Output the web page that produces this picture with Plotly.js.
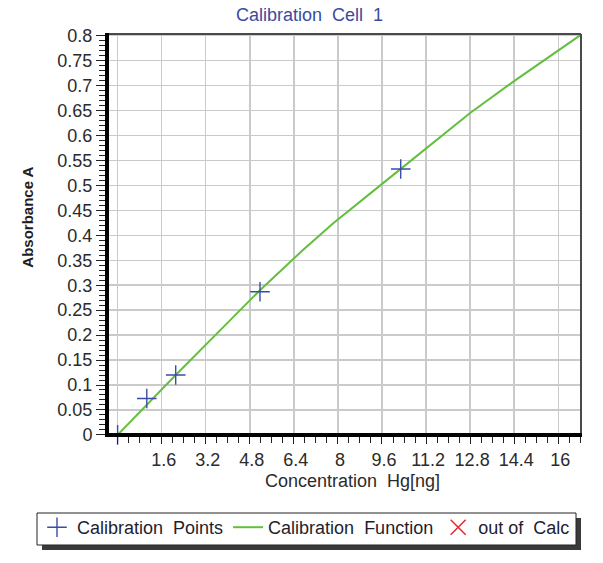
<!DOCTYPE html>
<html>
<head>
<meta charset="utf-8">
<script src="https://cdn.plot.ly/plotly-3.0.1.min.js"></script>
<style>
  html, body { margin: 0; padding: 0; background: #ffffff; }
  #chart { width: 603px; height: 563px; }
</style>
</head>
<body>
<div id="chart"></div>
<script>
// Calibration points (Concentration Hg [ng], Absorbance A)
var pointConc = [0, 1.06, 2.11, 5.17, 10.28];
var pointAbs  = [0, 0.073, 0.120, 0.287, 0.533];

// Calibration function
var funcConc = [0, 2.11, 4.0, 5.17, 6.68, 7.83, 9.65, 10.28, 11.71, 12.8, 14.37, 16.0, 16.85];
var funcAbs  = [0, 0.120, 0.225, 0.290, 0.368, 0.424, 0.505, 0.533, 0.597, 0.645, 0.708, 0.771, 0.803];

// Out-of-calculation points (none in range)
var outConc = [null];
var outAbs  = [null];

var xTickVals = [0, 1.6, 3.2, 4.8, 6.4, 8, 9.6, 11.2, 12.8, 14.4, 16];
var xTickText = ['', '1.6', '3.2', '4.8', '6.4', '8', '9.6', '11.2', '12.8', '14.4', '16'];
var yTickVals = [0, 0.05, 0.1, 0.15, 0.2, 0.25, 0.3, 0.35, 0.4, 0.45, 0.5, 0.55, 0.6, 0.65, 0.7, 0.75, 0.8];
var yTickText = ['0', '0.05', '0.1', '0.15', '0.2', '0.25', '0.3', '0.35', '0.4', '0.45', '0.5', '0.55', '0.6', '0.65', '0.7', '0.75', '0.8'];

var FONT = 'Liberation Sans, Arial, sans-serif';
var W = 603, H = 563;
var M = {l: 107, r: 22, t: 34, b: 128};
var PW = W - M.l - M.r, PH = H - M.t - M.b;
function px2x(px) { return (px - M.l) / PW; }
function py2y(py) { return (H - M.b - py) / PH; }

// legend frame (pixels), drawn as shapes behind a transparent legend
var boxL = 37, boxT = 513, boxR = 576, boxB = 545, sh = 5;

var traces = [
  {
    x: funcConc, y: funcAbs, type: 'scatter', mode: 'lines',
    name: 'Calibration\u00a0 Function',
    line: {color: '#62bf3e', width: 2},
    legendrank: 2, hoverinfo: 'skip'
  },
  {
    x: pointConc, y: pointAbs, type: 'scatter', mode: 'markers',
    name: 'Calibration\u00a0 Points',
    marker: {symbol: 'cross-thin-open', size: 14, color: '#3c4ca6', line: {color: '#3c4ca6', width: 1.4}},
    legendrank: 1, cliponaxis: false
  },
  {
    x: outConc, y: outAbs, type: 'scatter', mode: 'markers',
    name: 'out of\u00a0 Calc',
    marker: {symbol: 'x-thin-open', size: 15, color: '#e8262b', line: {color: '#e8262b', width: 1.5}},
    legendrank: 3
  }
];

var layout = {
  width: W, height: H,
  margin: M,
  paper_bgcolor: '#ffffff', plot_bgcolor: '#ffffff',
  font: {family: FONT, size: 18, color: '#2b2b2b'},
  title: {
    text: 'Calibration\u00a0 Cell\u00a0 1',
    font: {family: FONT, size: 18, color: '#3a4aa0'},
    x: 309.5 / W, xanchor: 'center', xref: 'container',
    y: 1 - 15 / H, yanchor: 'middle', yref: 'container'
  },
  xaxis: {
    range: [-0.385, 16.826],
    tickmode: 'array', tickvals: xTickVals, ticktext: xTickText,
    showgrid: true, gridcolor: '#cacaca', gridwidth: 1.5,
    zeroline: false, showline: false,
    ticks: 'outside', ticklen: 8, tickwidth: 1, tickcolor: '#222',
    tickfont: {family: FONT, size: 18, color: '#2b2b2b'},
    ticklabelshift: 2,
    minor: {dtick: 0.4, tick0: 0, ticks: 'outside', ticklen: 7, tickwidth: 1, tickcolor: '#222', showgrid: false},
    fixedrange: true
  },
  yaxis: {
    range: [-0.0002, 0.8034],
    tickmode: 'array', tickvals: yTickVals, ticktext: yTickText,
    showgrid: true, gridcolor: '#cacaca', gridwidth: 1.5,
    zeroline: false, showline: false,
    ticks: 'outside', ticklen: 10, tickwidth: 1, tickcolor: '#222',
    tickfont: {family: FONT, size: 18, color: '#2b2b2b'},
    minor: {dtick: 0.01, tick0: 0, ticks: 'outside', ticklen: 7, tickwidth: 1, tickcolor: '#222', showgrid: false},
    fixedrange: true
  },
  showlegend: true,
  legend: {
    orientation: 'h',
    x: px2x(boxL), xanchor: 'left',
    y: py2y(boxT - 4), yanchor: 'top',
    bgcolor: 'rgba(0,0,0,0)', borderwidth: 0,
    font: {family: FONT, size: 18, color: '#1e1e2e'},
    traceorder: 'normal'
  },
  annotations: [
    {
      text: 'Concentration\u00a0 Hg[ng]', showarrow: false,
      xref: 'paper', yref: 'paper',
      x: px2x(352), y: py2y(481), xanchor: 'center', yanchor: 'middle',
      font: {family: FONT, size: 18, color: '#2b2b2b'}
    },
    {
      text: 'Absorbance A', showarrow: false, textangle: -90,
      xref: 'paper', yref: 'paper',
      x: px2x(28), y: py2y(217.7), xanchor: 'center', yanchor: 'middle',
      font: {family: FONT, size: 15, color: '#1e1e1e', weight: 'bold'}
    }
  ],
  shapes: [
    // legend drop shadow
    {type: 'rect', xref: 'paper', yref: 'paper', layer: 'above',
     x0: px2x(boxL + sh), x1: px2x(boxR + sh), y0: py2y(boxB + sh), y1: py2y(boxT + sh),
     fillcolor: '#3a3a3a', line: {width: 0}},
    // legend frame
    {type: 'rect', xref: 'paper', yref: 'paper', layer: 'above',
     x0: px2x(boxL), x1: px2x(boxR), y0: py2y(boxB), y1: py2y(boxT),
     fillcolor: '#ffffff', line: {color: '#222222', width: 1}},
    // top & right frame
    {type: 'line', xref: 'paper', yref: 'paper', layer: 'above', x0: 0, x1: 1, y0: 1, y1: 1, line: {color: '#4a4a4a', width: 2}},
    {type: 'line', xref: 'paper', yref: 'paper', layer: 'above', x0: 1, x1: 1, y0: 0, y1: 1, line: {color: '#4a4a4a', width: 2}},
    // thick left & bottom axis lines
    {type: 'line', xref: 'paper', yref: 'paper', layer: 'above', x0: 0, x1: 0, y0: -0.005, y1: 1.0025, line: {color: '#000000', width: 4}},
    {type: 'line', xref: 'paper', yref: 'paper', layer: 'above', x0: -0.004, x1: 1.002, y0: 0, y1: 0, line: {color: '#000000', width: 4}}
  ]
};

Plotly.newPlot('chart', traces, layout, {displayModeBar: false, staticPlot: true});
</script>
</body>
</html>
